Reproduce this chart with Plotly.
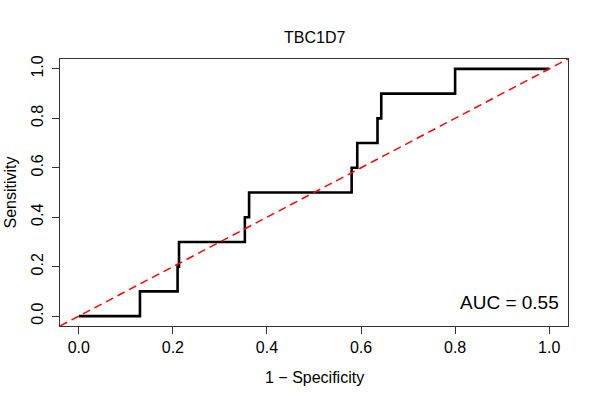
import plotly.graph_objects as go

title = "TBC1D7"
x_label = "1 \u2212 Specificity"
y_label = "Sensitivity"
auc_text = "AUC = 0.55"

fpr = [0.0, 0.13, 0.13, 0.21, 0.21, 0.213, 0.213, 0.353, 0.353, 0.362, 0.362,
       0.58, 0.58, 0.592, 0.592, 0.635, 0.635, 0.643, 0.643, 0.80, 0.80, 1.0]
tpr = [0.0, 0.0, 0.1, 0.1, 0.2, 0.2, 0.3, 0.3, 0.4, 0.4, 0.5,
       0.5, 0.6, 0.6, 0.7, 0.7, 0.8, 0.8, 0.9, 0.9, 1.0, 1.0]
ref_x = [-0.04, 1.04]
ref_y = [-0.04, 1.04]
tick_vals = [0.0, 0.2, 0.4, 0.6, 0.8, 1.0]
tick_text = ["0.0", "0.2", "0.4", "0.6", "0.8", "1.0"]

FONT = "Liberation Sans, Arial, sans-serif"

fig = go.Figure()
fig.add_trace(go.Scatter(x=fpr, y=tpr, mode="lines",
                         line=dict(color="black", width=2.6), hoverinfo="skip"))
fig.add_trace(go.Scatter(x=ref_x, y=ref_y, mode="lines",
                         line=dict(color="#FF0000", width=1.5, dash="8px,5px"),
                         hoverinfo="skip"))

axis_common = dict(range=[-0.04, 1.04], showgrid=False, zeroline=False,
                   showline=True, mirror=True, linecolor="#333333", linewidth=1,
                   ticks="outside", ticklen=7, tickcolor="#333333", tickwidth=1,
                   tickvals=tick_vals, ticktext=tick_text,
                   tickfont=dict(family=FONT, size=16, color="black"))

fig.update_layout(
    width=600, height=400,
    margin=dict(l=60, r=32, t=59, b=74),
    paper_bgcolor="white", plot_bgcolor="white",
    showlegend=False,
    xaxis=dict(**axis_common),
    yaxis=dict(**axis_common, tickangle=-90, ticklabelstandoff=3),
    annotations=[
        dict(text=title, xref="paper", yref="paper", x=0.5, y=1, yshift=22,
             xanchor="center", yanchor="middle", showarrow=False,
             font=dict(family=FONT, size=16, color="black")),
        dict(text=x_label, xref="paper", yref="paper", x=0.5, y=0, yshift=-51,
             xanchor="center", yanchor="middle", showarrow=False,
             font=dict(family=FONT, size=16, color="black")),
        dict(text=y_label, xref="paper", yref="paper", x=0, y=0.5, xshift=-50,
             xanchor="center", yanchor="middle", showarrow=False, textangle=-90,
             font=dict(family=FONT, size=16, color="black")),
        dict(text=auc_text, xref="x", yref="y", x=1.026, y=0.057,
             xanchor="right", yanchor="middle", showarrow=False,
             font=dict(family=FONT, size=19, color="black")),
    ],
)

fig.write_html("out.html", config={"displayModeBar": False},
               post_script="document.body.style.margin='0';")
